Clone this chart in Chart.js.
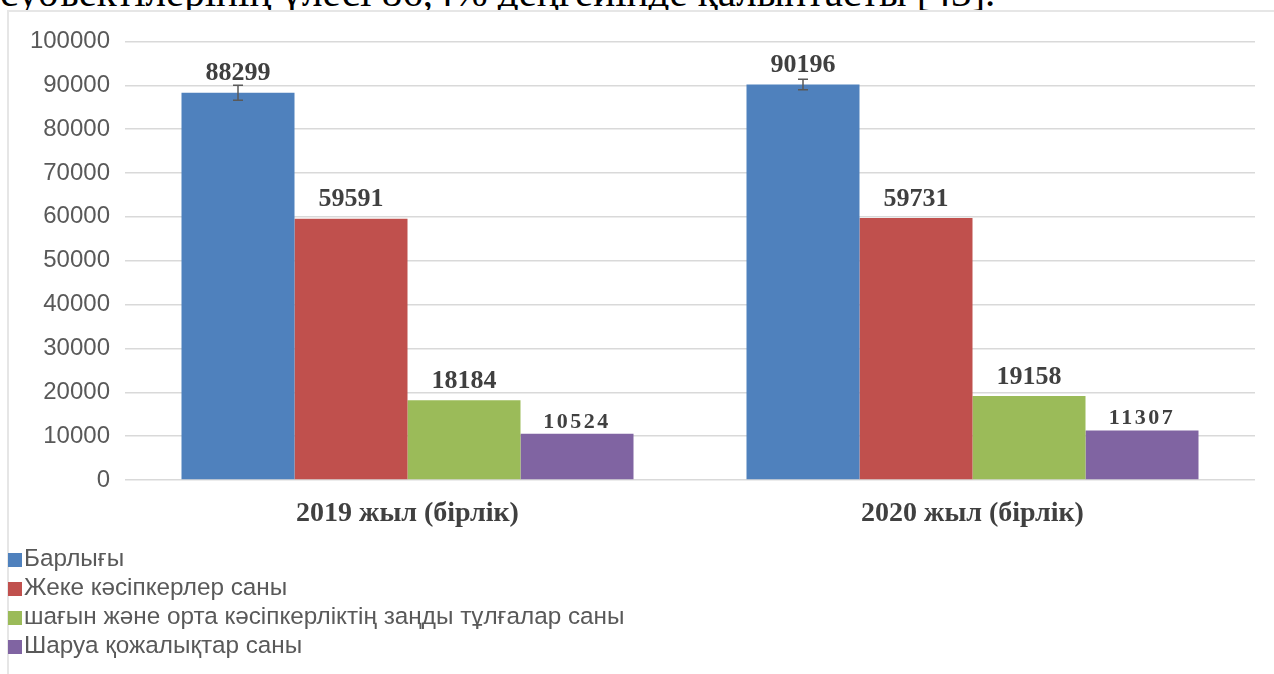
<!DOCTYPE html>
<html>
<head>
<meta charset="utf-8">
<script src="https://cdn.jsdelivr.net/npm/chart.js@4"></script>
<style>
  body { margin: 0; width: 1274px; height: 674px; overflow: hidden; background: #fff; position: relative; }
  #textAbove { position: absolute; left: 0; top: -28px; font: 41px/41px "Liberation Serif", serif; color: #000; white-space: nowrap; }
  #frame { position: absolute; left: 7px; top: 10px; width: 1267px; height: 664px; background: #fff;
           border-top: 2px solid #e6e6e6; border-left: 2px solid #e6e6e6; box-sizing: border-box; }
  #chartBox { position: absolute; left: -3px; top: 0; width: 1266px; height: 540px; }
  #legend { position: absolute; left: -1px; top: 531px; font: 24.3px "Liberation Sans", Arial, sans-serif; color: #595959; }
  .item { height: 29px; line-height: 29px; white-space: nowrap; }
  .box { display: inline-block; width: 14px; height: 14px; margin-right: 2px; vertical-align: -1px; }
</style>
</head>
<body>
<div id="textAbove">субъектілерінің үлесі 86,4% деңгейінде қалыптасты [43].</div>
<div id="frame">
  <div id="chartBox"><canvas id="barChart" width="1266" height="540"></canvas></div>
  <div id="legend"></div>
</div>
<script>
// Data
const categories = ['2019 жыл (бірлік)', '2020 жыл (бірлік)'];
const seriesNames = [
    'Барлығы',
    'Жеке кәсіпкерлер саны',
    'шағын және орта кәсіпкерліктің заңды тұлғалар саны',
    'Шаруа қожалықтар саны'
];
const totalAll = [88299, 90196];
const individualEntrepreneurs = [59591, 59731];
const smeLegalEntities = [18184, 19158];
const peasantFarms = [10524, 11307];
const totalErrors = [1700, 1200];
const yTickValues = [0, 10000, 20000, 30000, 40000, 50000, 60000, 70000, 80000, 90000, 100000];

const seriesColors = ['#4f81bd', '#c0504d', '#9bbb59', '#8064a2'];
const allSeries = [totalAll, individualEntrepreneurs, smeLegalEntities, peasantFarms];

// value labels above bars, plus the small error bar on "Барлығы"
const barLabels = {
    id: 'barLabels',
    afterDatasetsDraw(chart) {
        const ctx = chart.ctx;
        ctx.save();
        ctx.fillStyle = '#404040';
        ctx.textAlign = 'center';
        ctx.textBaseline = 'bottom';
        chart.data.datasets.forEach((ds, i) => {
            // the last series uses a smaller, wider-spaced font in the original
            if (i === 3) {
                ctx.font = 'bold 22px "Liberation Serif", serif';
                ctx.letterSpacing = '2.5px';
            } else {
                ctx.font = 'bold 26px "Liberation Serif", serif';
                ctx.letterSpacing = '0px';
            }
            chart.getDatasetMeta(i).data.forEach((bar, j) => {
                ctx.fillText(String(ds.data[j]), bar.x, bar.y - (i === 3 ? 1 : 6));
            });
        });
        // error bars
        const y = chart.scales.y;
        ctx.strokeStyle = '#595959';
        ctx.lineWidth = 1.5;
        chart.getDatasetMeta(0).data.forEach((bar, j) => {
            const top = y.getPixelForValue(totalAll[j] + totalErrors[j]);
            const bot = y.getPixelForValue(totalAll[j] - totalErrors[j]);
            ctx.beginPath();
            ctx.moveTo(bar.x, top); ctx.lineTo(bar.x, bot);
            ctx.moveTo(bar.x - 5, top); ctx.lineTo(bar.x + 5, top);
            ctx.moveTo(bar.x - 5, bot); ctx.lineTo(bar.x + 5, bot);
            ctx.stroke();
        });
        ctx.restore();
    }
};

const chart = new Chart(document.getElementById('barChart'), {
    type: 'bar',
    data: {
        labels: categories,
        datasets: seriesNames.map((name, i) => ({
            label: name,
            data: allSeries[i],
            backgroundColor: seriesColors[i],
            categoryPercentage: 0.8,
            barPercentage: 1.0
        }))
    },
    options: {
        responsive: false,
        animation: false,
        layout: { padding: { top: 24, right: 17, bottom: 0, left: 0 } },
        plugins: {
            legend: { display: false },
            tooltip: { enabled: false }
        },
        scales: {
            x: {
                grid: { display: false },
                border: { display: false },
                ticks: {
                    color: '#404040',
                    padding: 9,
                    font: { family: '"Liberation Serif", serif', size: 28, weight: 'bold' }
                },
                afterFit(scale) { scale.height = 72; }
            },
            y: {
                min: 0,
                max: 100000,
                afterBuildTicks(scale) { scale.ticks = yTickValues.map(v => ({ value: v })); },
                grid: { color: '#d9d9d9', lineWidth: 1.5, drawTicks: false },
                border: { display: false },
                ticks: {
                    color: '#595959',
                    padding: 15,
                    font: { family: '"Liberation Sans", Arial, sans-serif', size: 24 },
                    callback: v => String(v)
                },
                afterFit(scale) { scale.width = 119; }
            }
        }
    },
    plugins: [barLabels]
});

// legend as a plain vertical list
const legendEl = document.getElementById('legend');
seriesNames.forEach((name, i) => {
    const row = document.createElement('div');
    row.className = 'item';
    const box = document.createElement('span');
    box.className = 'box';
    box.style.background = seriesColors[i];
    row.appendChild(box);
    row.appendChild(document.createTextNode(name));
    legendEl.appendChild(row);
});
</script>
</body>
</html>
